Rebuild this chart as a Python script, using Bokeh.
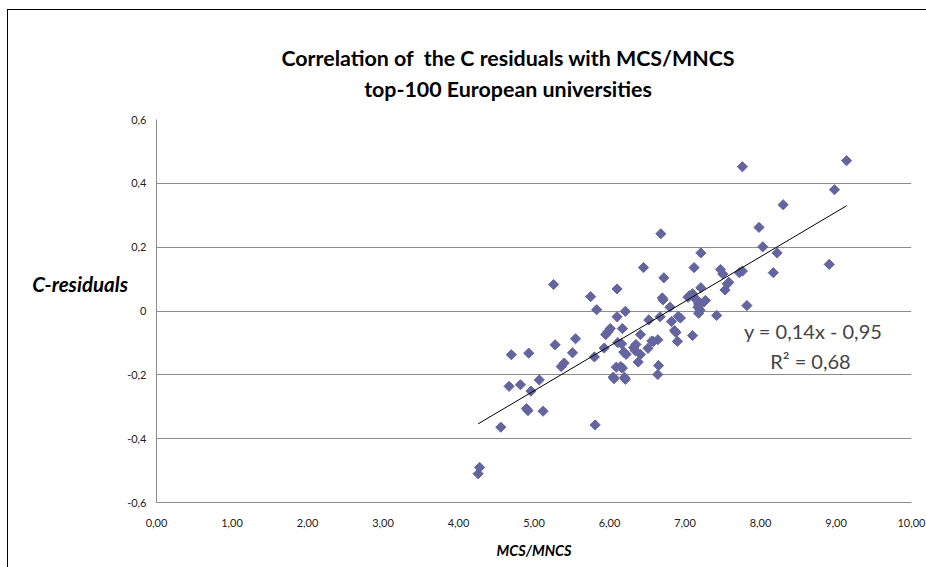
import numpy as np
from bokeh.plotting import figure
from bokeh.models import FixedTicker, CustomJSTickFormatter, Label, ColumnDataSource, Div
from bokeh.layouts import column, row
from bokeh.embed import file_html
from bokeh.resources import INLINE

# MCS/MNCS values (x) and C-residuals (y)
mcs_mncs = [4.26, 4.28, 4.56, 4.67, 4.70, 4.82, 4.90, 4.92, 4.93, 4.96,
            5.07, 5.12, 5.26, 5.28, 5.36, 5.40, 5.51, 5.55, 5.75, 5.80,
            5.81, 5.83, 5.93, 5.95, 5.98, 6.01, 6.05, 6.06, 6.09, 6.10,
            6.10, 6.11, 6.15, 6.16, 6.17, 6.17, 6.19, 6.21, 6.21, 6.22,
            6.20, 6.32, 6.34, 6.35, 6.38, 6.41, 6.41, 6.45, 6.51, 6.52,
            6.56, 6.58, 6.64, 6.64, 6.65, 6.67, 6.68, 6.70, 6.71, 6.72,
            6.80, 6.82, 6.86, 6.88, 6.90, 6.91, 6.94, 7.04, 7.06, 7.10,
            7.10, 7.12, 7.14, 7.16, 7.17, 7.18, 7.18, 7.20, 7.21, 7.21,
            7.25, 7.27, 7.42, 7.47, 7.50, 7.53, 7.56, 7.58, 7.72, 7.76,
            7.76, 7.82, 7.98, 8.03, 8.17, 8.22, 8.30, 8.91, 8.98, 9.14]
c_residuals = [-0.510, -0.490, -0.364, -0.236, -0.137, -0.231, -0.306, -0.312, -0.132, -0.251,
               -0.216, -0.314, 0.083, -0.106, -0.174, -0.163, -0.131, -0.087, 0.045, -0.144,
               -0.357, 0.004, -0.116, -0.074, -0.065, -0.055, -0.207, -0.212, -0.176, 0.069,
               -0.018, -0.099, -0.174, -0.103, -0.055, -0.179, -0.129, -0.001, -0.214, -0.136,
               -0.208, -0.115, -0.124, -0.105, -0.160, -0.074, -0.136, 0.136, -0.117, -0.028,
               -0.094, -0.096, -0.090, -0.199, -0.171, -0.018, 0.242, 0.041, 0.035, 0.104,
               0.012, -0.033, -0.061, -0.067, -0.095, -0.017, -0.022, 0.043, 0.048, 0.054,
               -0.077, 0.136, 0.038, 0.033, 0.012, 0.022, -0.007, 0.002, 0.182, 0.073,
               0.028, 0.033, -0.014, 0.130, 0.116, 0.066, 0.085, 0.090, 0.120, 0.125,
               0.452, 0.017, 0.262, 0.201, 0.120, 0.182, 0.333, 0.146, 0.380, 0.471]

# Trend line as printed on the chart
trend_slope = 0.14
trend_intercept = -0.95
equation_text = "y = 0,14x - 0,95"
r2_text = "R\u00b2 = 0,68"

x_ticks = [0, 1, 2, 3, 4, 5, 6, 7, 8, 9, 10]
y_ticks = [-0.6, -0.4, -0.2, 0, 0.2, 0.4, 0.6]

title_line1 = "Correlation of  the C residuals with MCS/MNCS"
title_line2 = "top-100 European universities"
x_label = "MCS/MNCS"
y_label = "C-residuals"

FONT = "Lato"
GRID = "#8c8c8c"
MARK = "#64659e"

title_div = Div(
    text=(f'<div style="box-sizing:border-box;width:918px;padding-left:82px;padding-top:33px;'
          f'text-align:center;font-family:Lato;font-weight:bold;font-size:21.4px;'
          f'line-height:31px;white-space:pre;color:black">'
          f'{title_line1}<br>{title_line2}</div>'),
    width=918, height=90, margin=(0, 0, 0, 0))

ylabel_div = Div(
    text=(f'<div style="box-sizing:border-box;width:120px;padding-top:173px;'
          f'text-align:right;font-family:Lato;font-weight:bold;font-style:italic;'
          f'font-size:20.5px;line-height:22px;white-space:pre;color:black">{y_label}</div>'),
    width=110, height=467, margin=(0, 0, 0, 0), styles={"overflow": "visible"})

p = figure(width=808, height=467, x_range=(0, 10), y_range=(-0.6, 0.6),
           output_backend="svg", toolbar_location=None,
           min_border_left=38, min_border_right=15,
           min_border_top=19, min_border_bottom=65, margin=(0, 0, 0, 0))
p.outline_line_color = None
p.background_fill_color = "white"
p.border_fill_color = None

# axes
p.xaxis.ticker = FixedTicker(ticks=x_ticks)
p.yaxis.ticker = FixedTicker(ticks=y_ticks)
p.xaxis.formatter = CustomJSTickFormatter(code="return tick.toFixed(2).replace('.', ',');")
p.yaxis.formatter = CustomJSTickFormatter(
    code="return Math.abs(tick) < 1e-9 ? '0' : tick.toFixed(1).replace('.', ',');")
for ax in (p.xaxis, p.yaxis):
    ax.axis_line_color = GRID
    ax.major_tick_line_color = None
    ax.minor_tick_line_color = None
    ax.major_tick_out = 0
    ax.major_tick_in = 0
    ax.minor_tick_out = 0
    ax.major_label_text_font = FONT
    ax.major_label_text_font_size = "11px"
    ax.major_label_text_color = "#222222"
p.yaxis.major_label_standoff = 10
p.xaxis.major_label_standoff = 16
p.xaxis.axis_label = x_label
p.xaxis.axis_label_text_font = FONT
p.xaxis.axis_label_text_font_size = "14.5px"
p.xaxis.axis_label_text_font_style = "bold italic"
p.xaxis.axis_label_text_color = "black"
p.xaxis.axis_label_standoff = 12

p.xgrid.grid_line_color = None
p.ygrid.ticker = FixedTicker(ticks=y_ticks)
p.ygrid.grid_line_color = GRID

# points
src = ColumnDataSource(dict(x=mcs_mncs, y=c_residuals))
p.scatter("x", "y", source=src, marker="square", angle=np.pi / 4, size=7.2,
          fill_color=MARK, line_color=MARK)

# trend line
tx = np.array([min(mcs_mncs), max(mcs_mncs)])
p.line(tx, trend_slope * tx + trend_intercept, line_color="black", line_width=1)

# equation texts
p.add_layout(Label(x=7.78, y=-0.064, text=equation_text, text_font=FONT, text_font_size="20px",
                   text_align="left", text_baseline="middle"))
p.add_layout(Label(x=8.13, y=-0.158, text=r2_text, text_font=FONT, text_font_size="20px",
                   text_align="left", text_baseline="middle"))

layout = column(title_div, row(ylabel_div, p, spacing=0, margin=(0, 0, 0, 0)),
                margin=(10, 0, 0, 8), spacing=0,
                styles={"outline": "1px solid black"})

open("out.html", "w").write(file_html(layout, INLINE))
